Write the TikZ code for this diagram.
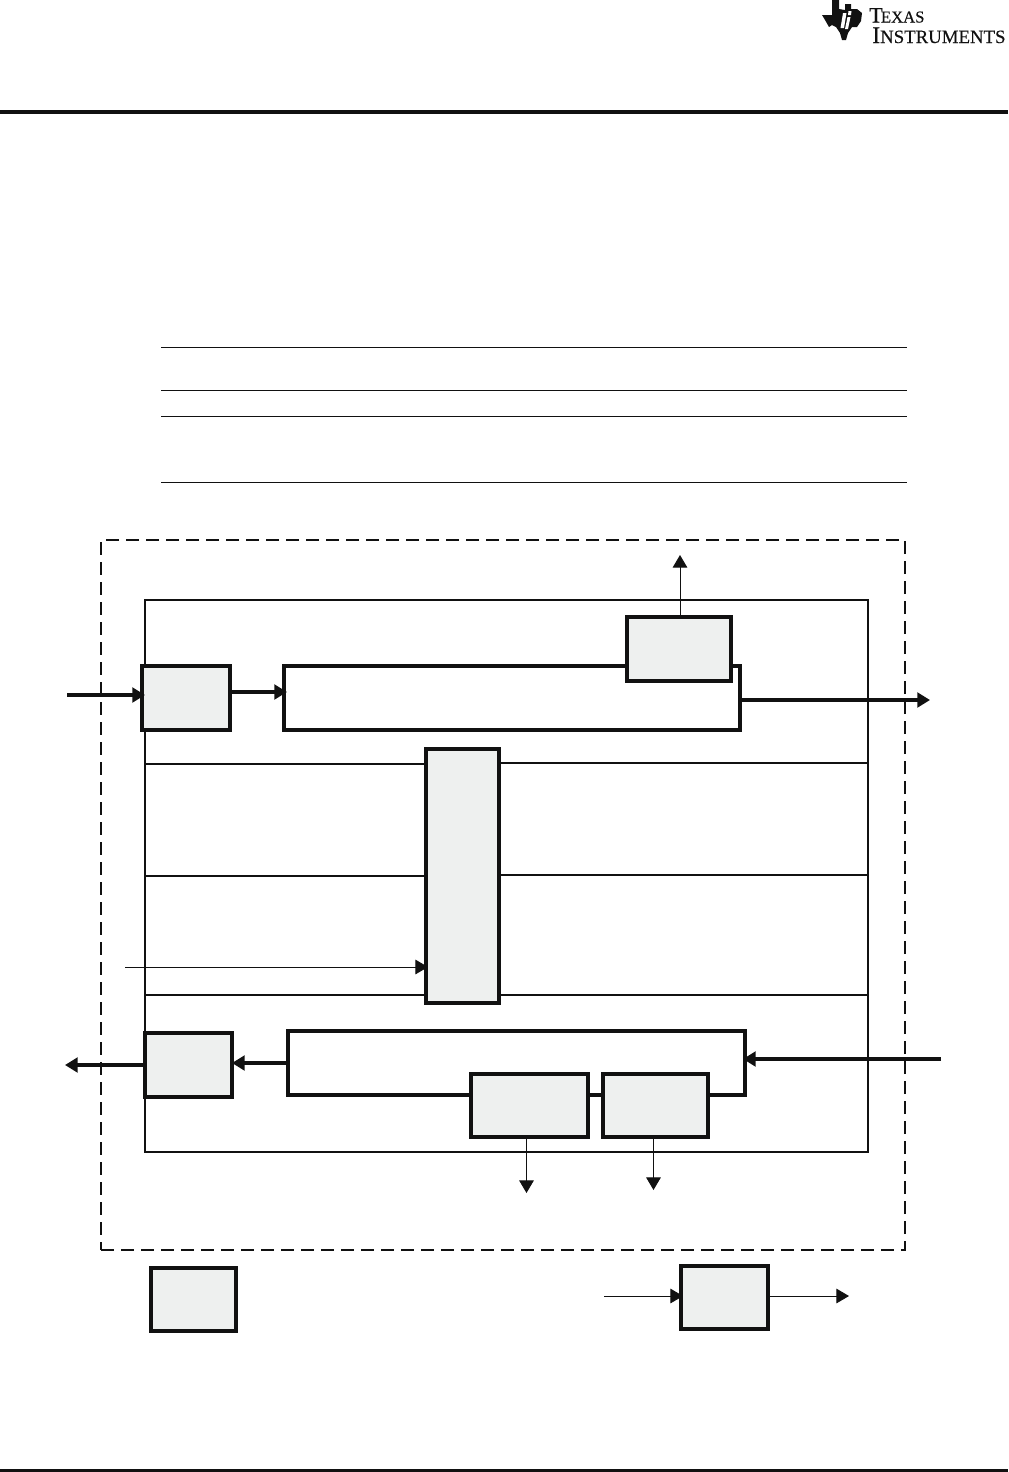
\documentclass[tikz,border=0pt]{standalone}
\usepackage{fontspec}
\setmainfont{Liberation Serif}
\newfontfamily\logofont[FakeBold=0.35]{Liberation Serif}
\usetikzlibrary{arrows.meta}
\definecolor{boxgray}{HTML}{EEF0EF}
\definecolor{ink}{HTML}{111111}
\tikzset{
  x=0.75pt,y=-0.75pt,
  bx/.style 2 args={rectangle,draw=ink,line width=2.3pt,inner sep=0pt,outer sep=0pt,anchor=north west,
    minimum width=#1*0.75pt,minimum height=#2*0.75pt},
  graybox/.style 2 args={bx={#1}{#2},fill=boxgray},
  whitebox/.style 2 args={bx={#1}{#2},fill=white},
  heavy/.style={draw=ink,line width=2.05pt},
  thickarrow/.style={draw=ink,line width=2.3pt,-{Triangle[length=9.5pt,width=11pt]}},
  thinarrow/.style={draw=ink,line width=0.7pt,-{Triangle[length=9.5pt,width=11pt]}},
  rulethin/.style={draw=ink,line width=0.75pt},
  logo/.style={inner sep=0pt,anchor=base west,text=ink},
}
\begin{document}
\begin{tikzpicture}
\useasboundingbox (0,0) rectangle (1008,1472);
% page furniture
\coordinate (hl) at (0,112); \coordinate (hr) at (1008,112);
\draw[draw=ink,line width=2.3pt] (hl) -- (hr);
\coordinate (fl) at (0,1470.5); \coordinate (fr) at (1008,1470.5);
\draw[draw=ink,line width=2.3pt] (fl) -- (fr);
% logo
\fill[ink] (832,0) -- (839,0) -- (839,9) -- (845,10) -- (845,4) -- (851,4) -- (851,9) -- (857,9) -- (862,13) -- (861,21) -- (857,27) -- (852,27) -- (848,33) -- (846,40) -- (842,40) -- (840,33) -- (836,27) -- (832,25) -- (829,27) -- (825,20) -- (822,15) -- (832,15) -- cycle;
\fill[white] (843,13) -- (846.5,13) -- (844,28) -- (840.5,28) -- cycle;
\fill[white] (848.5,11) -- (851.5,11) -- (851,15) -- (848,15) -- cycle;
\fill[white] (847.5,17) -- (850.5,17) -- (848,29) -- (845,29) -- cycle;
\node[logo] (logoa) at (869,22.5) {\logofont\fontsize{16.5pt}{16.5pt}\selectfont T\kern-.08em\fontsize{12.5pt}{12.5pt}\selectfont EXAS};
\node[logo] (logob) at (872,43) {\logofont\fontsize{17.8pt}{17.8pt}\selectfont I\fontsize{14.1pt}{14.1pt}\selectfont NSTRUMENTS};
% table rules
\foreach \n/\yy in {a/347,b/390,c/416,d/482}{
  \coordinate (t\n l) at (161,\yy); \coordinate (t\n r) at (907,\yy);
  \draw[rulethin] (t\n l) -- (t\n r);
}
% dashed boundary
\node[rectangle,draw=ink,line width=1pt,dash pattern=on 10pt off 5pt,inner sep=0pt,outer sep=0pt,anchor=north west,minimum width=804*0.75pt,minimum height=710*0.75pt] (dash) at (101,540) {};
% outer module
\node[bx={723}{552},line width=2.05pt] (outer) at (145,600) {};
% horizontal bands
\coordinate (l1) at (145,764); \coordinate (r1) at (868,763);
\coordinate (l2) at (145,876); \coordinate (r2) at (868,875);
\coordinate (l3) at (145,995); \coordinate (r3) at (868,995);
\draw[heavy] (l1) -- (426,764) (500,763) -- (r1);
\draw[heavy] (l2) -- (426,876) (500,875) -- (r2);
\draw[heavy] (l3) -- (r3);
% wide boxes
\node[whitebox={456}{64}] (wtop) at (284,666) {};
\node[whitebox={457}{64}] (wbot) at (288,1031) {};
% gray boxes
\node[graybox={88}{64}] (inb) at (142,666) {};
\node[graybox={104}{64}] (tbox) at (627,617) {};
\node[graybox={73}{254}] (mid) at (426,749) {};
\node[graybox={87}{64}] (outb) at (145,1033) {};
\node[graybox={117}{63}] (b1) at (471,1074) {};
\node[graybox={105}{63}] (b2) at (603,1074) {};
\node[graybox={85}{63}] (leg1) at (151,1268) {};
\node[graybox={87}{63}] (leg2) at (681,1266) {};
% connectors
\coordinate (ina) at (67,695);
\draw[thickarrow] (ina) -- ([xshift=2.25pt]ina -| inb.west);
\coordinate (ab) at (230,692);
\draw[thickarrow] (ab) -- ([xshift=2.25pt]ab -| wtop.west);
\coordinate (wo) at (930,700);
\draw[thickarrow] (wo -| wtop.east) -- (wo);
\coordinate (up) at (680,555);
\draw[thinarrow] (up |- tbox.north) -- (up);
\coordinate (ctl) at (125,967);
\draw[thinarrow] (ctl) -- ([xshift=1.5pt]ctl -| mid.west);
\coordinate (ba) at (941,1059);
\draw[thickarrow] (ba) -- ([xshift=-1.5pt]ba -| wbot.east);
\coordinate (bc) at (288,1063);
\draw[thickarrow] (bc) -- (bc -| outb.east);
\coordinate (oa) at (65,1065);
\draw[thickarrow] (oa -| outb.west) -- (oa);
\coordinate (d1) at (526.5,1193);
\draw[thinarrow] (d1 |- b1.south) -- (d1);
\coordinate (d2) at (653.5,1190);
\draw[thinarrow] (d2 |- b2.south) -- (d2);
\coordinate (li) at (604,1296);
\draw[thinarrow] (li) -- ([xshift=1.5pt]li -| leg2.west);
\coordinate (lo) at (849,1296);
\draw[thinarrow] (lo -| leg2.east) -- (lo);
\end{tikzpicture}
\end{document}
